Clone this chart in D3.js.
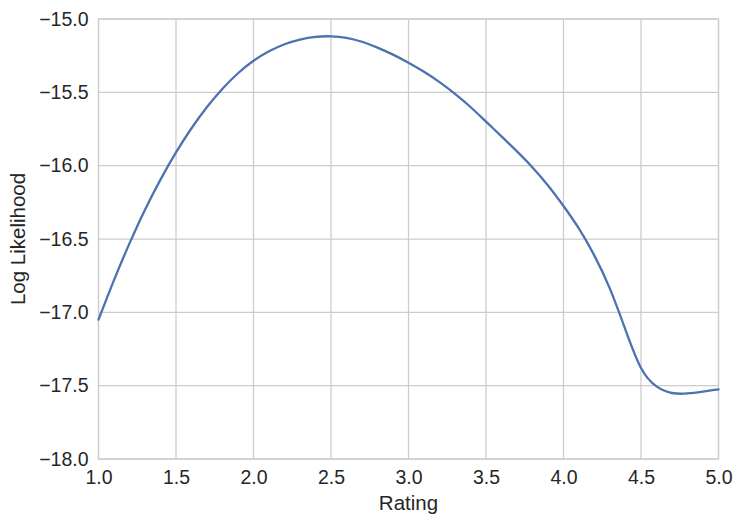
<!DOCTYPE html>
<html>
<head>
<meta charset="utf-8">
<script src="https://cdn.jsdelivr.net/npm/d3@7"></script>
<style>
  html, body { margin: 0; padding: 0; background: #ffffff; }
  svg { display: block; }
  text { font-family: "Liberation Sans", Arial, sans-serif; fill: #262626; }
</style>
</head>
<body>
<svg id="chart" width="742" height="524"></svg>
<script>
// Data
const rating = [1.0, 1.1, 1.2, 1.3, 1.4, 1.5, 1.6, 1.7, 1.8, 1.9, 2.0,
                2.1, 2.2, 2.3, 2.4, 2.5, 2.6, 2.7, 2.8, 2.9, 3.0,
                3.1, 3.2, 3.3, 3.4, 3.5, 3.6, 3.7, 3.8, 3.9, 4.0,
                4.1, 4.2, 4.3, 4.4, 4.5, 4.6, 4.7, 4.8, 4.9, 5.0];
const logLik = [-17.05, -16.78, -16.53, -16.30, -16.095, -15.91, -15.745, -15.60, -15.475, -15.37, -15.285,
                -15.22, -15.172, -15.14, -15.122, -15.118, -15.128, -15.155, -15.195, -15.243, -15.298,
                -15.36, -15.43, -15.51, -15.60, -15.70, -15.80, -15.903, -16.012, -16.135, -16.275,
                -16.43, -16.615, -16.84, -17.12, -17.38, -17.505, -17.55, -17.553, -17.54, -17.525];
const xTicks = [1.0, 1.5, 2.0, 2.5, 3.0, 3.5, 4.0, 4.5, 5.0];
const yTicks = [-15.0, -15.5, -16.0, -16.5, -17.0, -17.5, -18.0];
const xLabel = "Rating";
const yLabel = "Log Likelihood";

const svg = d3.select("#chart");
const m = { left: 98.5, right: 718.5, top: 19, bottom: 459 };

const x = d3.scaleLinear().domain([1, 5]).range([m.left, m.right]);
const y = d3.scaleLinear().domain([-18, -15]).range([m.bottom, m.top]);

const grid = svg.append("g");
grid.selectAll("line.vx").data(xTicks).join("line")
  .attr("x1", d => x(d)).attr("x2", d => x(d))
  .attr("y1", m.top).attr("y2", m.bottom)
  .attr("stroke", "#cccccc").attr("stroke-width", 1.25);
grid.selectAll("line.hy").data(yTicks).join("line")
  .attr("y1", d => y(d)).attr("y2", d => y(d))
  .attr("x1", m.left).attr("x2", m.right)
  .attr("stroke", "#cccccc").attr("stroke-width", 1.25);

// spines
svg.append("rect")
  .attr("x", m.left).attr("y", m.top)
  .attr("width", m.right - m.left).attr("height", m.bottom - m.top)
  .attr("fill", "none").attr("stroke", "#cccccc").attr("stroke-width", 1.25);

const fmt = d3.format(".1f");
const minus = s => s.replace("-", "\u2212");

// x axis
const xAxis = svg.append("g").attr("transform", `translate(0,${m.bottom})`)
  .call(d3.axisBottom(x).tickValues(xTicks).tickFormat(d => minus(fmt(d))).tickSize(0).tickPadding(11));
xAxis.select(".domain").remove();
xAxis.selectAll("text").attr("font-size", 19.5).attr("fill", "#262626")
  .attr("font-family", "Liberation Sans, Arial, sans-serif");

// y axis
const yAxis = svg.append("g").attr("transform", `translate(${m.left},0)`)
  .call(d3.axisLeft(y).tickValues(yTicks).tickFormat(d => minus(fmt(d))).tickSize(0).tickPadding(10));
yAxis.select(".domain").remove();
yAxis.selectAll("text").attr("font-size", 19.5).attr("fill", "#262626")
  .attr("font-family", "Liberation Sans, Arial, sans-serif");

// axis labels
svg.append("text")
  .attr("x", (m.left + m.right) / 2).attr("y", 510)
  .attr("text-anchor", "middle").attr("font-size", 20.5)
  .text(xLabel);
svg.append("text")
  .attr("transform", `translate(25,${(m.top + m.bottom) / 2}) rotate(-90)`)
  .attr("text-anchor", "middle").attr("font-size", 20.5)
  .text(yLabel);

// line
const data = rating.map((r, i) => ({ r, v: logLik[i] }));
const line = d3.line().x(d => x(d.r)).y(d => y(d.v)).curve(d3.curveNatural);
svg.append("path").datum(data)
  .attr("d", line)
  .attr("fill", "none")
  .attr("stroke", "#4c72b0")
  .attr("stroke-width", 2.3)
  .attr("stroke-linecap", "round");
</script>
</body>
</html>
